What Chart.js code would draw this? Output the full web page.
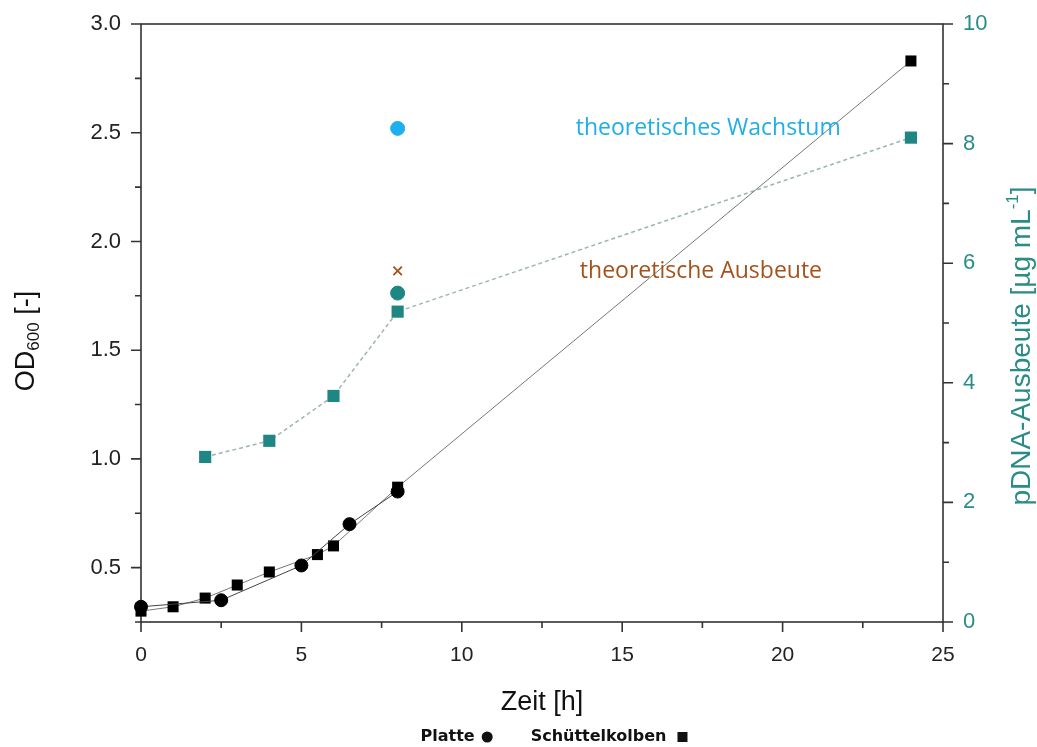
<!DOCTYPE html>
<html>
<head>
<meta charset="utf-8">
<script src="https://cdn.jsdelivr.net/npm/chart.js@4.4.1/dist/chart.umd.min.js"></script>
<style>
  html, body { margin: 0; background: #fff; }
  #wrap { width: 1037px; height: 747px; position: relative; }
</style>
</head>
<body>
<div id="wrap"><canvas id="chart"></canvas></div>
<script>
// ===================================================== DATA ===================================================== //

// OD600 Platte (Kreise)
const platteZeit = [0, 2.5, 5, 6.5, 8];
const platteOD   = [0.32, 0.35, 0.51, 0.70, 0.85];

// OD600 Schüttelkolben (Quadrate)
const kolbenZeit = [0, 1, 2, 3, 4, 5.5, 6, 8, 24];
const kolbenOD   = [0.30, 0.32, 0.36, 0.42, 0.48, 0.56, 0.60, 0.87, 2.83];

// pDNA-Ausbeute Schüttelkolben (rechte Achse)
const dnaZeit      = [2, 4, 6, 8, 24];
const dnaAusbeute  = [2.76, 3.03, 3.78, 5.19, 8.10];

// pDNA-Ausbeute Platte, theoretische Werte bei 8 h
const dnaPlatteZeit = [8];
const dnaPlatte     = [5.50];
const theoAusbeuteZeit = [8];
const theoAusbeute     = [5.87];
const theoWachstumZeit = [8];
const theoWachstum     = [2.52];

// Achsenticks
const xMajor   = [0, 5, 10, 15, 20, 25];
const xMinor   = [2.5, 7.5, 12.5, 17.5, 22.5];
const odMajor  = [0.5, 1.0, 1.5, 2.0, 2.5, 3.0];
const odMinor  = [0.75, 1.25, 1.75, 2.25, 2.75];
const dnaMajor = [0, 2, 4, 6, 8, 10];
const dnaMinor = [1, 3, 5, 7, 9];

// Beschriftungen im Diagramm
const labels = [
  {text: 'theoretisches Wachstum', x: 13.55, y: 2.52, axis: 'y',  color: '#1eaee8'},
  {text: 'theoretische Ausbeute',  x: 13.68, y: 5.87, axis: 'y1', color: '#a4521c'}
];

// ==================================================== STYLE ===================================================== //

const TEAL = '#1f8783', TEAL_TXT = '#2a8c87', AXIS = '#333';
const FONT = '"Liberation Sans", Arial, sans-serif';

const pts = (xs, ys) => xs.map((x, i) => ({x, y: ys[i]}));
const tickList = arr => () => arr.map(v => ({value: v}));

// feste Achsengrößen, kein Überhang der Ticklabels
const fixV = w => s => { s.width = w; s.paddingTop = 0; s.paddingBottom = 0; };
const fixH = h => s => { s.height = h; s.paddingLeft = 0; s.paddingRight = 0; };

// ==================================================== PLUGIN ==================================================== //

function richText(ctx, parts, x, y, rot) {
  ctx.save();
  ctx.translate(x, y);
  ctx.rotate(rot);
  ctx.textBaseline = 'middle';
  ctx.textAlign = 'left';
  let w = 0;
  parts.forEach(p => { ctx.font = p.font; w += ctx.measureText(p.t).width; });
  let cx = -w / 2;
  parts.forEach(p => {
    ctx.font = p.font;
    ctx.fillStyle = p.color;
    ctx.fillText(p.t, cx, p.dy || 0);
    cx += ctx.measureText(p.t).width;
  });
  ctx.restore();
}

const decor = {
  id: 'decor',
  beforeDatasetsDraw(chart) {
    const {ctx, chartArea: a, scales: {x, y, y1}} = chart;
    ctx.save();
    ctx.strokeStyle = AXIS;
    ctx.lineWidth = 1.6;
    ctx.strokeRect(a.left, a.top, a.right - a.left, a.bottom - a.top);
    ctx.beginPath();
    ctx.moveTo(a.left - 6, a.bottom); ctx.lineTo(a.left, a.bottom);
    // Tickmarks
    const tick = (list, len, f) => list.forEach(v => f(v, len));
    const xt = (v, len) => { const p = x.getPixelForValue(v); ctx.moveTo(p, a.bottom); ctx.lineTo(p, a.bottom + len); };
    const yt = (v, len) => { const p = y.getPixelForValue(v); ctx.moveTo(a.left, p); ctx.lineTo(a.left - len, p); };
    const rt = (v, len) => { const p = y1.getPixelForValue(v); ctx.moveTo(a.right, p); ctx.lineTo(a.right + len, p); };
    tick(xMajor, 10, xt); tick(xMinor, 6, xt);
    tick(odMajor, 10, yt); tick(odMinor, 6, yt);
    tick(dnaMajor, 10, rt); tick(dnaMinor, 6, rt);
    ctx.stroke();
    ctx.restore();
  },
  afterDatasetsDraw(chart) {
    const {ctx, chartArea: a, scales} = chart;
    const big = `27px ${FONT}`, small = `17px ${FONT}`;

    // Achsentitel
    richText(ctx, [
      {t: 'OD', font: big, color: '#111'},
      {t: '600', font: small, color: '#111', dy: 7},
      {t: ' [-]', font: big, color: '#111'}
    ], 27, 341, -Math.PI / 2);
    richText(ctx, [{t: 'Zeit [h]', font: big, color: '#111'}], (a.left + a.right) / 2, 703, 0);
    richText(ctx, [
      {t: 'pDNA-Ausbeute [µg mL', font: `28px ${FONT}`, color: TEAL_TXT},
      {t: '-1', font: small, color: TEAL_TXT, dy: -9},
      {t: ']', font: `28px ${FONT}`, color: TEAL_TXT}
    ], 1022, 346, -Math.PI / 2);

    // Textlabels an den theoretischen Werten
    ctx.save();
    ctx.font = `23px "Open Sans", sans-serif`;
    ctx.textBaseline = 'middle';
    labels.forEach(l => {
      ctx.fillStyle = l.color;
      ctx.fillText(l.text, scales.x.getPixelForValue(l.x), scales[l.axis].getPixelForValue(l.y));
    });
    ctx.restore();

    // Legende unten
    ctx.save();
    ctx.font = `bold 16px "DejaVu Sans", sans-serif`;
    ctx.textBaseline = 'middle';
    ctx.fillStyle = '#111';
    const ly = 737;
    const w1 = ctx.measureText('Platte').width, w2 = ctx.measureText('Schüttelkolben').width;
    const total = w1 + 7 + 11 + 38 + w2 + 11 + 10;
    let lx = (a.left + a.right) / 2 + 12 - total / 2;
    ctx.fillText('Platte', lx, ly);
    lx += w1 + 7;
    ctx.beginPath(); ctx.arc(lx + 5.5, ly, 5.5, 0, Math.PI * 2); ctx.fill();
    lx += 11 + 38;
    ctx.fillText('Schüttelkolben', lx, ly);
    lx += w2 + 11;
    ctx.fillRect(lx, ly - 5, 10, 10);
    ctx.restore();
  }
};

// ===================================================== CHART ===================================================== //

new Chart(document.getElementById('chart'), {
  type: 'scatter',
  data: {
    datasets: [
      {label: 'theoretisches Wachstum', data: pts(theoWachstumZeit, theoWachstum), yAxisID: 'y',
       pointStyle: 'circle', pointRadius: 7, backgroundColor: '#1eb0ec', borderColor: '#1eb0ec', clip: false},
      {label: 'theoretische Ausbeute', data: pts(theoAusbeuteZeit, theoAusbeute), yAxisID: 'y1',
       pointStyle: 'crossRot', pointRadius: 6, borderWidth: 1.8, borderColor: '#a4521c', clip: false},
      {label: 'pDNA Platte', data: pts(dnaPlatteZeit, dnaPlatte), yAxisID: 'y1',
       pointStyle: 'circle', pointRadius: 7, backgroundColor: TEAL, borderColor: TEAL, clip: false},
      {label: 'Platte', data: pts(platteZeit, platteOD), yAxisID: 'y', showLine: true,
       borderColor: '#444', borderWidth: 1, pointStyle: 'circle', pointRadius: 6.5,
       pointBackgroundColor: '#000', pointBorderColor: '#000', clip: false},
      {label: 'Schüttelkolben', data: pts(kolbenZeit, kolbenOD), yAxisID: 'y', showLine: true,
       borderColor: '#777', borderWidth: 1, pointStyle: 'rect', pointRadius: 7.8,
       pointBackgroundColor: '#000', pointBorderColor: '#000', pointBorderWidth: 0, clip: false},
      {label: 'pDNA Schüttelkolben', data: pts(dnaZeit, dnaAusbeute), yAxisID: 'y1', showLine: true,
       borderColor: '#9fb3b2', borderWidth: 1.5, borderDash: [4, 3], pointStyle: 'rect', pointRadius: 8.6,
       pointBackgroundColor: TEAL, pointBorderColor: TEAL, pointBorderWidth: 0, clip: false}
    ]
  },
  options: {
    responsive: true,
    maintainAspectRatio: false,
    animation: false,
    layout: {padding: {top: 24, left: 0, right: 0, bottom: 0}},
    plugins: {legend: {display: false}, tooltip: {enabled: false}},
    scales: {
      x: {
        type: 'linear', position: 'bottom', min: 0, max: 25,
        grid: {display: false, drawTicks: false}, border: {display: false},
        afterBuildTicks: s => { s.ticks = tickList(xMajor)(); },
        afterFit: fixH(125),
        ticks: {font: {family: FONT, size: 21}, color: '#222', padding: 21, maxRotation: 0}
      },
      y: {
        type: 'linear', position: 'left', min: 0.25, max: 3.0,
        grid: {display: false, drawTicks: false}, border: {display: false},
        afterBuildTicks: s => { s.ticks = tickList(odMajor)(); },
        afterFit: fixV(141),
        ticks: {font: {family: FONT, size: 22}, color: '#222', padding: 20, callback: v => v.toFixed(1)}
      },
      y1: {
        type: 'linear', position: 'right', min: 0, max: 10,
        grid: {display: false, drawTicks: false}, border: {display: false},
        afterBuildTicks: s => { s.ticks = tickList(dnaMajor)(); },
        afterFit: fixV(94),
        ticks: {font: {family: FONT, size: 22}, color: TEAL_TXT, padding: 20}
      }
    }
  },
  plugins: [decor]
});
</script>
</body>
</html>
